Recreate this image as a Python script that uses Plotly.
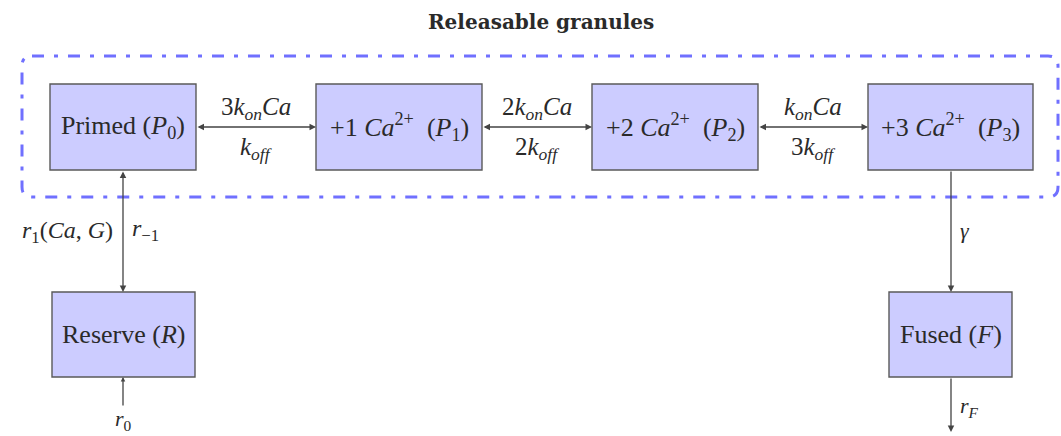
import plotly.graph_objects as go

# ---- diagram content ----
title_text = "<b>Releasable granules</b>"
node_ids = ["P0", "P1", "P2", "P3", "R", "F"]
node_labels = [
    "Primed (<i>P</i><sub>0</sub>)",
    "+1 <i>Ca</i><sup>2+</sup>\u00a0 (<i>P</i><sub>1</sub>)",
    "+2 <i>Ca</i><sup>2+</sup>\u00a0 (<i>P</i><sub>2</sub>)",
    "+3 <i>Ca</i><sup>2+</sup>\u00a0 (<i>P</i><sub>3</sub>)",
    "Reserve (<i>R</i>)",
    "Fused (<i>F</i>)",
]
# reversible binding steps: (from, to, forward rate, backward rate)
binding_from = ["P0", "P1", "P2"]
binding_to = ["P1", "P2", "P3"]
binding_fwd = ["3<i>k</i><sub><i>on</i></sub><i>Ca</i>",
               "2<i>k</i><sub><i>on</i></sub><i>Ca</i>",
               "<i>k</i><sub><i>on</i></sub><i>Ca</i>"]
binding_bwd = ["<i>k</i><sub><i>off</i></sub>",
               "2<i>k</i><sub><i>off</i></sub>",
               "3<i>k</i><sub><i>off</i></sub>"]
priming_fwd = "<i>r</i><sub>1</sub>(<i>Ca</i>, <i>G</i>)"
priming_bwd = "<i>r</i><sub>−1</sub>"
fusion_rate = "<i>γ</i>"
supply_rate = "<i>r</i><sub>0</sub>"
removal_rate = "<i>r</i><sub><i>F</i></sub>"

# ---- layout geometry (page pixels) ----
W, H = 1061, 436
geom = {  # x0, x1, y0, y1
    "P0": (50, 196, 84, 170),
    "P1": (316, 482, 84, 170),
    "P2": (592, 758, 84, 170),
    "P3": (868, 1033, 84, 170),
    "R": (52, 195, 292, 377),
    "F": (889, 1012, 292, 377),
}
FILL = "#ccccff"
EDGE = "#5a5a5a"
ARROW = "#444444"
TXT = "#2a2a2a"
FONT = "Liberation Serif"

fig = go.Figure()
fig.add_trace(go.Scatter(x=[0, W], y=[0, H], mode="markers",
                         marker=dict(opacity=0), hoverinfo="skip", showlegend=False))

shapes = []
annotations = []

# dashed rounded frame
fx0, fx1, fy0, fy1, r = 22, 1058, 56, 197, 10
path = (f"M {fx0+r},{fy0} L {fx1-r},{fy0} Q {fx1},{fy0} {fx1},{fy0+r} "
        f"L {fx1},{fy1-r} Q {fx1},{fy1} {fx1-r},{fy1} L {fx0+r},{fy1} "
        f"Q {fx0},{fy1} {fx0},{fy1-r} L {fx0},{fy0+r} Q {fx0},{fy0} {fx0+r},{fy0} Z")
shapes.append(dict(type="path", path=path, xref="x", yref="y",
                   line=dict(color="#7070ff", width=3, dash="12px,10px,4px,10px")))

for nid, lab in zip(node_ids, node_labels):
    x0, x1, y0, y1 = geom[nid]
    shapes.append(dict(type="rect", x0=x0, x1=x1, y0=y0, y1=y1, xref="x", yref="y",
                       fillcolor=FILL, line=dict(color=EDGE, width=1.4)))
    annotations.append(dict(x=(x0 + x1) / 2, y=(y0 + y1) / 2, text=lab, showarrow=False,
                            font=dict(family=FONT, size=26, color=TXT)))


def arrow(xa, ya, xb, yb, both=False, size=1.0):
    annotations.append(dict(x=xb, y=yb, ax=xa, ay=ya, xref="x", yref="y", axref="x", ayref="y",
                            text="", showarrow=True, arrowhead=2, arrowsize=size, arrowwidth=1.3,
                            arrowcolor=ARROW, standoff=0, startstandoff=0,
                            arrowside="end+start" if both else "end", startarrowhead=2,
                            startarrowsize=size))


def label(x, y, text, xanchor="center", size=25, family=FONT):
    annotations.append(dict(x=x, y=y, text=text, showarrow=False, xanchor=xanchor,
                            yanchor="middle", font=dict(family=family, size=size, color=TXT)))


# binding steps
for a, b, f, bk in zip(binding_from, binding_to, binding_fwd, binding_bwd):
    xa = geom[a][1]
    xb = geom[b][0]
    yc = (geom[a][2] + geom[a][3]) / 2
    arrow(xa, yc, xb, yc, both=True)
    label((xa + xb) / 2, yc - 19, f)
    label((xa + xb) / 2, yc + 21, bk)

# priming P0 <-> R
xc = 123
arrow(xc, geom["P0"][3], xc, geom["R"][2], both=True)
label(115, 232, priming_fwd, xanchor="right", size=24)
label(130, 230, priming_bwd, xanchor="left", size=24)

# supply r0
arrow(xc, 407, xc, geom["R"][3], size=0.7)
label(xc, 420, supply_rate, size=22)

# fusion P3 -> F
xf = 951
arrow(xf, geom["P3"][3], xf, geom["F"][2])
label(958, 230, fusion_rate, xanchor="left", size=22)

# removal rF
arrow(xf, geom["F"][3], xf, 432)
label(958, 407, removal_rate, xanchor="left", size=22)

# title
label(541, 22, title_text, size=20, family="DejaVu Serif")

fig.update_layout(
    width=W, height=H, margin=dict(l=0, r=0, t=0, b=0),
    paper_bgcolor="white", plot_bgcolor="white",
    xaxis=dict(range=[0, W], visible=False, fixedrange=True),
    yaxis=dict(range=[H, 0], visible=False, fixedrange=True),
    shapes=shapes, annotations=annotations, showlegend=False,
)
fig.write_html("out.html", config={"displayModeBar": False},
               post_script="document.body.style.margin='0';document.body.style.overflow='hidden';")
